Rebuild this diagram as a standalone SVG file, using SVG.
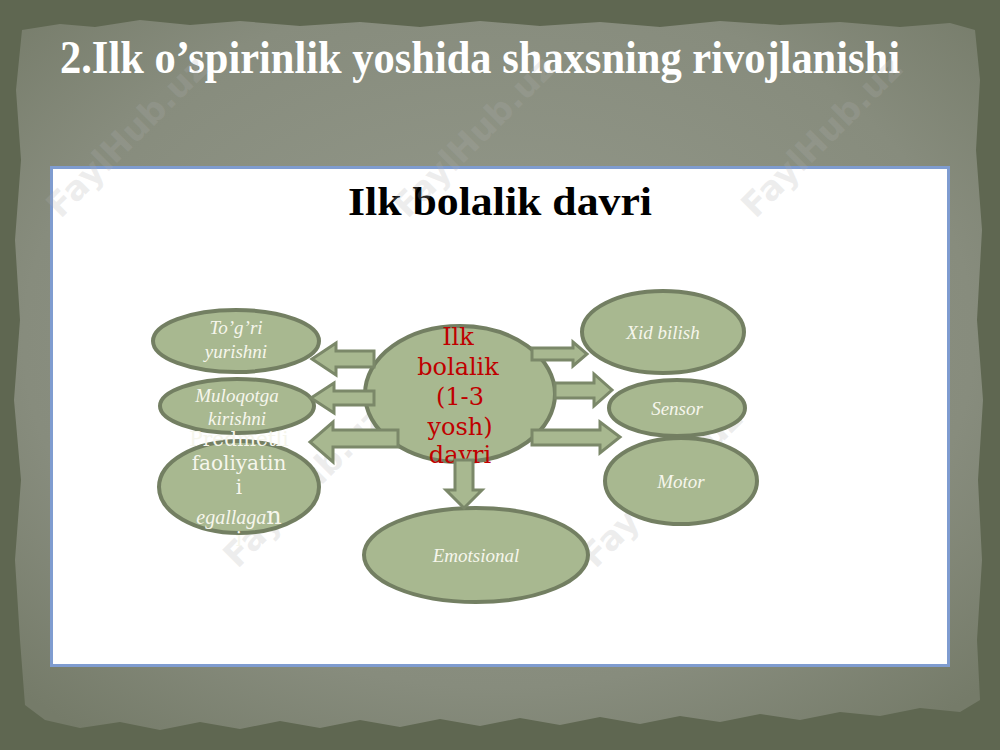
<svg xmlns="http://www.w3.org/2000/svg" width="1000" height="750" viewBox="0 0 1000 750">
<defs>
<radialGradient id="paper" cx="0.5" cy="0.45" r="0.7">
<stop offset="0" stop-color="#959a8c"/>
<stop offset="0.7" stop-color="#878c7d"/>
<stop offset="1" stop-color="#757b69"/>
</radialGradient>
<style>
.node{fill:#a8b890;stroke:#737f62;stroke-width:4}
.arr{fill:#a8b890;stroke:#7b8869;stroke-width:3;stroke-linejoin:miter}
.lbl{font-family:"Liberation Serif",serif;font-style:italic;font-size:19px;fill:#f6f6ec;text-anchor:middle}
.ser{font-family:"DejaVu Serif",serif;fill:#f6f6ec;text-anchor:middle}
.red{font-family:"DejaVu Serif",serif;font-size:24px;fill:#c00000;text-anchor:middle}
.wm{font-family:"DejaVu Sans",sans-serif;font-weight:bold;font-size:34px;fill:#b0b0b0;fill-opacity:0.22;text-anchor:middle}
</style>
</defs>
<rect x="0" y="0" width="1000" height="750" fill="#5f6751"/>
<path d="M22,30 L60,24 L95,27 L140,20 L190,25 L240,21 L300,26 L360,22 L420,27 L480,21 L540,26 L600,22 L660,27 L720,21 L780,25 L840,22 L900,27 L950,23 L975,30 L980,80 L976,150 L982,230 L977,320 L983,400 L978,480 L982,560 L977,640 L980,700 L960,712 L920,708 L880,716 L840,712 L800,720 L760,714 L720,722 L680,716 L640,724 L600,717 L560,725 L520,718 L480,726 L440,719 L400,727 L360,720 L320,728 L280,721 L240,729 L200,722 L160,730 L120,722 L80,728 L45,720 L25,705 L20,640 L15,560 L21,480 L14,400 L20,320 L15,240 L21,160 L16,90 Z" fill="url(#paper)"/>
<text x="60" y="73" font-family="Liberation Serif,serif" font-weight="bold" font-size="46" fill="#ffffff" textLength="840" lengthAdjust="spacingAndGlyphs">2.Ilk o’spirinlik yoshida shaxsning rivojlanishi</text>
<rect x="51.5" y="167.5" width="897" height="498" fill="#ffffff" stroke="#7f9cd0" stroke-width="3"/>
<text x="348" y="215" font-family="Liberation Serif,serif" font-weight="bold" font-size="41" fill="#000000" textLength="304" lengthAdjust="spacingAndGlyphs">Ilk bolalik davri</text>
<g id="watermarks">
<text class="wm" transform="translate(135,145) rotate(-45)">FaylHub.uz</text>
<text class="wm" transform="translate(482,145) rotate(-45)">FaylHub.uz</text>
<text class="wm" transform="translate(830,145) rotate(-45)">FaylHub.uz</text>
<text class="wm" transform="translate(312,495) rotate(-45)">FaylHub.uz</text>
<text class="wm" transform="translate(670,495) rotate(-45)">FaylHub.uz</text>
</g>
<g id="node-togri">
<ellipse class="node" cx="236" cy="341" rx="83" ry="31"/>
<text class="lbl" x="236" y="334">To’g’ri</text>
<text class="lbl" x="236" y="358">yurishni</text>
</g>
<g id="node-predmetli">
<ellipse class="node" cx="239" cy="487" rx="80" ry="46"/>
</g>
<g id="node-muloqot">
<ellipse class="node" cx="237" cy="406" rx="77" ry="27"/>
<text class="lbl" x="237" y="402">Muloqotga</text>
<text class="lbl" x="237" y="425">kirishni</text>
</g>
<g id="node-predmetli-text">
<text class="ser" x="239" y="446" font-size="20">Predmetli</text>
<text class="ser" x="239" y="470" font-size="20">faoliyatin</text>
<text class="ser" x="239" y="494" font-size="20">i</text>
<text class="ser" x="239" y="524"><tspan font-family="Liberation Serif,serif" font-style="italic" font-size="20">egallaga</tspan><tspan font-size="24">n</tspan></text>
<text class="ser" x="239" y="546" font-size="20">i</text>
</g>
<g id="node-center">
<ellipse class="node" cx="460" cy="394" rx="95" ry="68"/>
<text class="red" x="458" y="345">Ilk</text>
<text class="red" x="458" y="375">bolalik</text>
<text class="red" x="460" y="405">(1-3</text>
<text class="red" x="460" y="435">yosh)</text>
<text class="red" x="460" y="463">davri</text>
</g>
<g id="node-xid">
<ellipse class="node" cx="663" cy="332" rx="81" ry="41"/>
<text class="lbl" x="663" y="339">Xid bilish</text>
</g>
<g id="node-sensor">
<ellipse class="node" cx="677" cy="408" rx="68" ry="28"/>
<text class="lbl" x="677" y="415">Sensor</text>
</g>
<g id="node-motor">
<ellipse class="node" cx="681" cy="481" rx="76" ry="43"/>
<text class="lbl" x="681" y="488">Motor</text>
</g>
<g id="node-emotsional">
<ellipse class="node" cx="476" cy="555" rx="112" ry="47"/>
<text class="lbl" x="476" y="562">Emotsional</text>
</g>
<g id="connectors">
<path class="arr" d="M374,351 L336,351 L336,343 L312,359 L336,375 L336,367 L374,367 Z"/>
<path class="arr" d="M374,391 L334,391 L334,383 L311,398 L334,413 L334,405 L374,405 Z"/>
<path class="arr" d="M398,430 L333,430 L333,422 L310,442 L333,462 L333,447 L398,447 Z"/>
<path class="arr" d="M532,348 L573,348 L573,342 L587,354 L573,366 L573,360 L532,360 Z"/>
<path class="arr" d="M555,383 L594,383 L594,374 L612,390 L594,406 L594,398 L555,398 Z"/>
<path class="arr" d="M532,430 L600,430 L600,422 L620,437 L600,453 L600,445 L532,445 Z"/>
<path class="arr" d="M455,460 L473,460 L473,490 L482,490 L464,508 L446,490 L455,490 Z"/>
</g>
</svg>
